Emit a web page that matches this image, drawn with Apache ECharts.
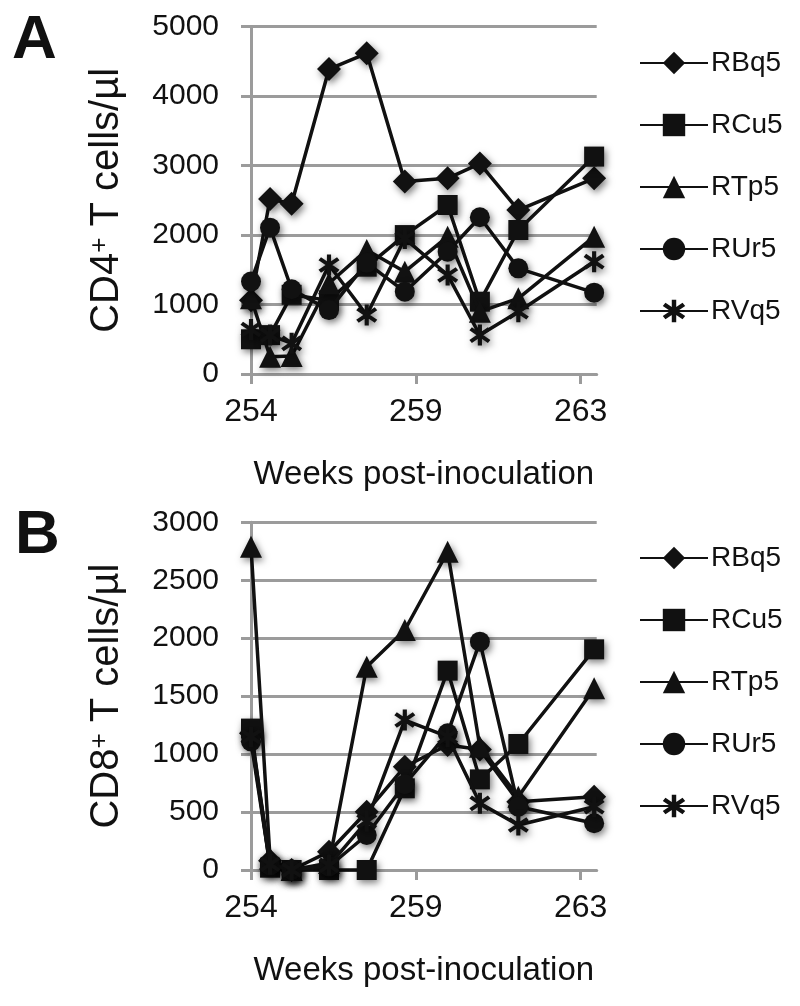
<!DOCTYPE html>
<html>
<head>
<meta charset="utf-8">
<script src="https://cdn.jsdelivr.net/npm/echarts@6/dist/echarts.min.js"></script>
<style>
html,body{margin:0;padding:0;background:#fff;}
#c{width:800px;height:1006px;}
</style>
</head>
<body>
<div id="c"></div>
<script>
// ---- data ----
const weeks = [254.0, 254.52, 255.11, 256.13, 257.16, 258.2, 259.37, 260.25, 261.3, 263.37];
const animals = ['RBq5', 'RCu5', 'RTp5', 'RUr5', 'RVq5'];
const xTickValues = [254, 258.5, 263];

// Panel A: CD4+ T cells/µl
const cd4_RBq5 = [1060, 2520, 2450, 4390, 4616, 2770, 2817, 3030, 2360, 2817];
const cd4_RCu5 = [500, 560, 1140, 1060, 1545, 2000, 2433, 1041, 2073, 3130];
const cd4_RTp5 = [1090, 250, 260, 1306, 1785, 1473, 1977, 897, 1090, 1977];
const cd4_RUr5 = [1330, 2107, 1220, 920, 1600, 1185, 1761, 2256, 1521, 1171];
const cd4_RVq5 = [640, 560, 441, 1569, 850, 1950, 1425, 560, 897, 1617];

// Panel B: CD8+ T cells/µl
const cd8_RBq5 = [1180, 80, 0, 158, 503, 891, 1078, 1040, 589, 632];
const cd8_RCu5 = [1220, 20, 0, 0, 0, 705, 1720, 782, 1087, 1904];
const cd8_RTp5 = [2790, 100, 0, 60, 1754, 2071, 2746, 1064, 632, 1568];
const cd8_RUr5 = [1110, 40, 0, 30, 302, 740, 1179, 1970, 546, 403];
const cd8_RVq5 = [1150, 50, 0, 40, 420, 1294, 1150, 575, 388, 546];

const cd4Sets = [cd4_RBq5, cd4_RCu5, cd4_RTp5, cd4_RUr5, cd4_RVq5];
const cd8Sets = [cd8_RBq5, cd8_RCu5, cd8_RTp5, cd8_RUr5, cd8_RVq5];

// ---- styling ----
const FONT = '"Liberation Sans", Arial, Helvetica, sans-serif';
const GRAY = '#9b9b9b';
const INK = '#111111';
const asterisk = 'path://M41 0L59 0L59 100L41 100Z M15.4 12.8L95.4 72.8L84.6 87.2L4.6 27.2Z M4.6 72.8L84.6 12.8L95.4 27.2L15.4 87.2Z';
const symbols = ['diamond', 'rect', 'triangle', 'circle', asterisk];
const symbolSizes = [24, 20, 22, 20, 21];

const chart = echarts.init(document.getElementById('c'), null, {renderer: 'canvas'});

function xAxis(gridIndex) {
  return {
    type: 'value', gridIndex: gridIndex, min: 254, max: 263.44,
    axisLine: {show: true, lineStyle: {color: GRAY, width: 3}},
    axisTick: {show: true, customValues: xTickValues, length: 10, lineStyle: {color: GRAY, width: 3}},
    axisLabel: {show: true, customValues: xTickValues, margin: 22, fontSize: 32, color: INK, fontFamily: FONT,
      formatter: function (v) { return String(Math.round(v)); }},
    splitLine: {show: false},
    name: 'Weeks post-inoculation', nameLocation: 'middle', nameGap: 84,
    nameTextStyle: {fontSize: 33, color: INK, fontFamily: FONT}
  };
}
function yAxis(gridIndex, max, interval, label) {
  return {
    type: 'value', gridIndex: gridIndex, min: 0, max: max, interval: interval,
    axisLine: {show: true, lineStyle: {color: GRAY, width: 3}},
    axisTick: {show: true, length: 10, lineStyle: {color: GRAY, width: 3}},
    axisLabel: {margin: 32, fontSize: 30, color: INK, fontFamily: FONT,
      formatter: function (v) { return String(v); }},
    splitLine: {show: true, lineStyle: {color: GRAY, width: 3}},
    name: '{a|' + label + '}{s|+}{a| T cells/µl}', nameLocation: 'middle', nameRotate: 90, nameGap: 124,
    nameTextStyle: {color: INK, fontFamily: FONT, fontSize: 40,
      rich: {a: {fontSize: 40, color: INK, fontFamily: FONT}, s: {fontSize: 26, color: INK, fontFamily: FONT, verticalAlign: 'top'}}}
  };
}

const series = [];
[cd4Sets, cd8Sets].forEach(function (sets, p) {
  sets.forEach(function (vals, k) {
    series.push({
      name: animals[k], type: 'line', xAxisIndex: p, yAxisIndex: p,
      data: weeks.map(function (w, i) { return [w, vals[i]]; }),
      symbol: symbols[k], symbolSize: symbolSizes[k], showAllSymbol: true, clip: false,
      lineStyle: {color: INK, width: 3.5},
      itemStyle: {color: INK, borderWidth: 0, shadowBlur: 7, shadowColor: 'rgba(0,0,0,0.5)', shadowOffsetX: 2, shadowOffsetY: 3},
      emphasis: {disabled: true},
      z: 3 + k
    });
  });
});

function legend(top) {
  return {
    orient: 'vertical', left: 634, top: top, data: animals,
    itemWidth: 68, itemHeight: 28, itemGap: 34,
    textStyle: {fontSize: 28, color: INK, fontFamily: FONT, lineHeight: 28, padding: [0, 0, 0, -2]},
    itemStyle: {shadowBlur: 0, shadowColor: 'rgba(0,0,0,0)', shadowOffsetX: 0, shadowOffsetY: 0},
    selectedMode: false
  };
}

chart.setOption({
  animation: false,
  backgroundColor: '#ffffff',
  grid: [
    {left: 251, top: 26.7, width: 345.7, height: 347.3},
    {left: 251, top: 522.3, width: 345.7, height: 347.7}
  ],
  xAxis: [xAxis(0), xAxis(1)],
  yAxis: [yAxis(0, 5000, 1000, 'CD4'), yAxis(1, 3000, 500, 'CD8')],
  legend: [legend(44), legend(539)],
  graphic: [
    {type: 'text', x: 12, y: 41, style: {text: 'A', fontSize: 62, fontWeight: 'bold', fontFamily: FONT, fill: INK, verticalAlign: 'middle'}},
    {type: 'text', x: 15, y: 536, style: {text: 'B', fontSize: 62, fontWeight: 'bold', fontFamily: FONT, fill: INK, verticalAlign: 'middle'}}
  ],
  series: series
});
</script>
</body>
</html>
